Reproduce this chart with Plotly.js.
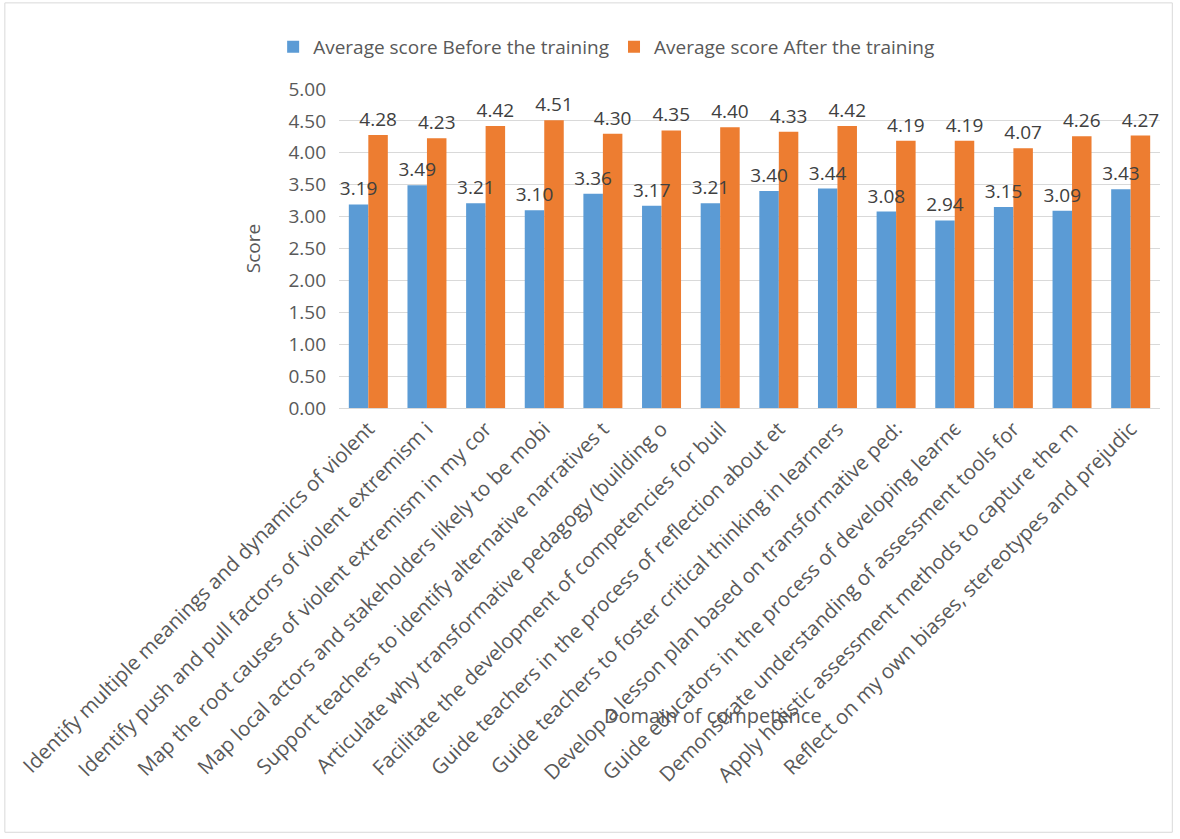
<!DOCTYPE html>
<html><head><meta charset="utf-8">
<script src="https://cdn.plot.ly/plotly-3.0.1.min.js"></script>
<style>body{margin:0;background:#fff}#c{width:1180px;height:839px}</style>
</head><body><div id="c"></div>
<script>
const categories = [
  "Identify multiple meanings and dynamics of violent",
  "Identify push and pull factors of violent extremism i",
  "Map the root causes of violent extremism in my cor",
  "Map local actors and stakeholders likely to be mobi",
  "Support teachers to identify alternative narratives t",
  "Articulate why transformative pedagogy (building o",
  "Facilitate the development of competencies for buil",
  "Guide teachers in the process of reflection about et",
  "Guide teachers to foster critical thinking in learners",
  "Develop a lesson plan based on transformative ped:",
  "Guide educators in the process of developing learn\u0454",
  "Demonstrate understanding of assessment tools for",
  "Apply holistic assessment methods to capture the m",
  "Reflect on my own biases, stereotypes and prejudic"
];
const before = [3.19, 3.49, 3.21, 3.10, 3.36, 3.17, 3.21, 3.40, 3.44, 3.08, 2.94, 3.15, 3.09, 3.43];
const after = [4.28, 4.23, 4.42, 4.51, 4.30, 4.35, 4.40, 4.33, 4.42, 4.19, 4.19, 4.07, 4.26, 4.27];
const seriesNames = ["Average score Before the training", "Average score After the training"];

const FF = "Open Sans, Liberation Sans, sans-serif";
const labelFont = {family: FF, size: 19, color: "#404040"};
function bars(vals, name, color) {
  return {type: "bar", x: categories, y: vals, name: name, marker: {color: color},
          hoverinfo: "y+name"};
}
function labels(vals, name) {
  return {type: "bar", x: categories, y: vals, name: name, xaxis: "x2", yaxis: "y2",
          marker: {color: "rgba(0,0,0,0)"}, showlegend: false, hoverinfo: "skip",
          text: vals.map(v => v.toFixed(2)), textposition: "outside",
          textfont: labelFont, cliponaxis: false, constraintext: "none"};
}
const data = [
  bars(before, seriesNames[0], "#5b9bd5"), bars(after, seriesNames[1], "#ed7d31"),
  labels(before, seriesNames[0]), labels(after, seriesNames[1])
];
const layout = {
  width: 1180, height: 839,
  margin: {l: 339, r: 20, t: 89, b: 431},
  paper_bgcolor: "#fff", plot_bgcolor: "#fff",
  font: {family: FF, color: "#595959"},
  barmode: "group", bargap: 0.335, bargroupgap: 0,
  showlegend: true,
  legend: {orientation: "h", x: 0.326, xanchor: "center", y: 1.132, yanchor: "middle",
           font: {size: 19, color: "#595959"}, itemwidth: 30, traceorder: "normal"},
  xaxis: {tickangle: -45, tickfont: {size: 20.5, color: "#595959"}, showline: true, linecolor: "#d9d9d9",
          ticks: "", automargin: false},
  xaxis2: {overlaying: "x", matches: "x", visible: false},
  yaxis: {range: [0, 5], dtick: 0.5, tickformat: ".2f", gridcolor: "#d9d9d9", zeroline: false,
          tickfont: {size: 19, color: "#595959"}, ticks: "", automargin: false, ticklabelstandoff: 12,
          title: {text: "Score", font: {size: 19, color: "#595959"}, standoff: 22}},
  yaxis2: {overlaying: "y", matches: "y", visible: false},
  annotations: [{text: "Domain of competence", xref: "paper", yref: "paper",
                 x: 0.455, y: -0.965, xanchor: "center", yanchor: "middle", showarrow: false,
                 font: {size: 20, color: "#595959"}}],
  shapes: [{type: "rect", xref: "paper", yref: "paper", x0: -0.407, x1: 1.015, y0: -1.33, y1: 1.27,
            line: {color: "#d9d9d9", width: 1}, fillcolor: "rgba(0,0,0,0)"}]
};
Plotly.newPlot("c", data, layout, {displayModeBar: false});
</script></body></html>
